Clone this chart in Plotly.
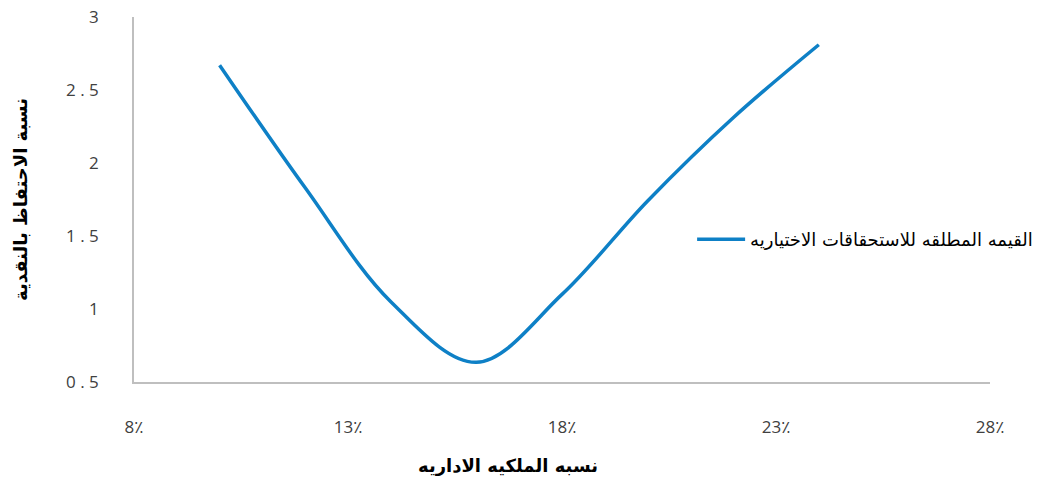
import plotly.graph_objects as go

# Data
ownership_pct = [10, 12, 14, 16, 18, 20, 22, 24]
accruals_abs = [2.67, 1.83, 1.05, 0.635, 1.10, 1.74, 2.31, 2.81]

x_tick_vals = [8, 13, 18, 23, 28]
x_tick_text = ["8٪", "13٪", "18٪", "23٪", "28٪"]
y_tick_vals = [0.5, 1, 1.5, 2, 2.5, 3]
y_tick_text = ["0 . 5", "1", "1 . 5", "2", "2 . 5", "3"]

series_name = "القيمه المطلقه للاستحقاقات الاختياريه"
x_title = "نسبه الملكيه الاداريه"
y_title = "نسبة الاحتفاظ بالنقدية"

fig = go.Figure()
fig.add_trace(go.Scatter(
    x=ownership_pct, y=accruals_abs, mode="lines", name=series_name,
    line=dict(color="#0E80C6", width=3.5, shape="spline", smoothing=1.0),
))

fig.update_layout(
    width=1056, height=480,
    margin=dict(l=134, r=66, t=17, b=98),
    plot_bgcolor="white", paper_bgcolor="white",
    font=dict(family="Open Sans, DejaVu Sans", color="#404040", size=17),
    showlegend=True,
    legend=dict(x=0.652, y=0.39, xanchor="left", yanchor="middle",
                itemwidth=48,
                font=dict(family="DejaVu Sans", size=18, color="#000000"),
                bgcolor="rgba(0,0,0,0)"),
    xaxis=dict(range=[8, 28], tickvals=x_tick_vals, ticktext=x_tick_text,
               showgrid=False, zeroline=False, showline=True, automargin=False,
               linecolor="#BFBFBF", linewidth=1.5, ticks="",
               ticklabelstandoff=29),
    yaxis=dict(range=[0.5, 3], tickvals=y_tick_vals, ticktext=y_tick_text,
               showgrid=False, zeroline=False, showline=True, automargin=False,
               linecolor="#BFBFBF", linewidth=1.5, ticks="",
               ticklabelstandoff=30,
               title=dict(text=y_title, standoff=34,
                          font=dict(family="DejaVu Sans", size=18, color="#000000", weight="bold"))),
    annotations=[dict(
        text=x_title, xref="paper", yref="paper",
        x=(508 - 134) / 856, y=(382 - 465) / 365,
        xanchor="center", yanchor="middle", showarrow=False,
        font=dict(family="DejaVu Sans", size=18, color="#000000", weight="bold"),
    )],
)

fig.write_html("out.html")
